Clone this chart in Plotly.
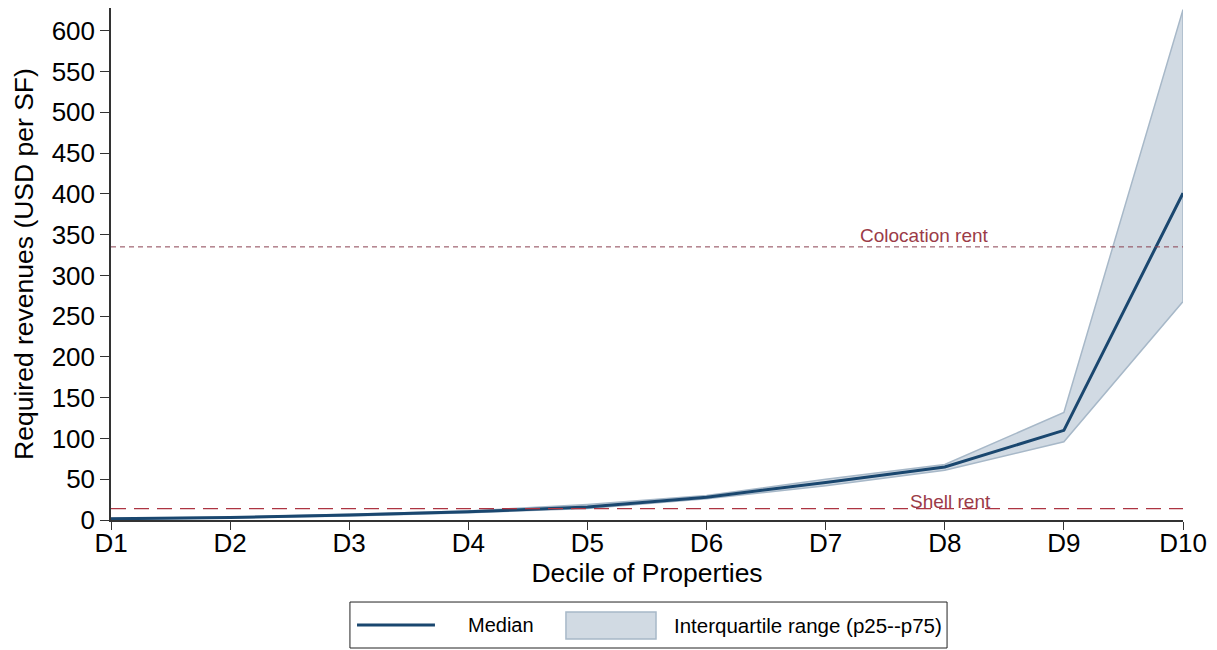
import plotly.graph_objects as go

# Decile categories and required revenue statistics (USD per SF)
deciles = ["D1", "D2", "D3", "D4", "D5", "D6", "D7", "D8", "D9", "D10"]
median = [1.5, 3, 6, 10, 16, 28, 46, 65, 110, 401]
p25 = [1.0, 2.5, 5, 9, 14, 26, 42, 61, 96, 268]
p75 = [2.0, 3.5, 7, 11, 19, 30, 50, 68, 132, 626]

# Reference rent levels
colocation_rent = 335
shell_rent = 14

yticks = list(range(0, 601, 50))

FONT = "Liberation Sans, Arial, sans-serif"
MEDIAN_COLOR = "#1A476F"
BAND_FILL = "#D1DAE3"
BAND_EDGE = "#A7B8C8"
x_idx = list(range(len(deciles)))

fig = go.Figure()

# Interquartile band: upper edge, then lower edge filled to it
fig.add_trace(go.Scatter(
    x=x_idx, y=p75, mode="lines",
    line=dict(color=BAND_EDGE, width=1.5),
    hoverinfo="skip",
))
fig.add_trace(go.Scatter(
    x=x_idx, y=p25, mode="lines", fill="tonexty",
    fillcolor=BAND_FILL,
    line=dict(color=BAND_EDGE, width=1.5),
    name="Interquartile range (p25--p75)",
))
# Right edge of the band at D10
fig.add_trace(go.Scatter(
    x=[x_idx[-1], x_idx[-1]], y=[p25[-1], p75[-1]], mode="lines",
    line=dict(color=BAND_EDGE, width=1.5),
    hoverinfo="skip",
))

fig.add_trace(go.Scatter(
    x=x_idx, y=median, mode="lines",
    line=dict(color=MEDIAN_COLOR, width=3),
    name="Median",
))

# Horizontal rent reference lines
fig.add_shape(type="line", xref="x", yref="y", x0=0, x1=9,
              y0=colocation_rent, y1=colocation_rent,
              line=dict(color="#8A4050", width=1, dash="5px,4px"))
fig.add_shape(type="line", xref="x", yref="y", x0=0, x1=9,
              y0=shell_rent, y1=shell_rent,
              line=dict(color="#AD3442", width=1.2, dash="15px,8px"))

fig.add_annotation(x=6.83, y=colocation_rent, xref="x", yref="y",
                   text="Colocation rent", showarrow=False, yanchor="middle",
                   yshift=11, font=dict(family=FONT, size=19, color="#9B3B48"))
fig.add_annotation(x=7.05, y=shell_rent, xref="x", yref="y",
                   text="Shell rent", showarrow=False, yanchor="middle",
                   yshift=7, font=dict(family=FONT, size=19, color="#9B3B48"))

# Legend box below the plot (paper coordinates)
fig.add_shape(type="rect", xref="paper", yref="paper",
              x0=0.2229, x1=0.7799, y0=-0.25, y1=-0.1602,
              line=dict(color="#222222", width=1), fillcolor="white")
fig.add_shape(type="line", xref="paper", yref="paper",
              x0=0.2295, x1=0.3022, y0=-0.2051, y1=-0.2051,
              line=dict(color=MEDIAN_COLOR, width=3))
fig.add_annotation(x=0.3312, y=-0.2051, xref="paper", yref="paper",
                   text="Median", showarrow=False, xanchor="left", yanchor="middle",
                   font=dict(family=FONT, size=20, color="black"))
fig.add_shape(type="rect", xref="paper", yref="paper",
              x0=0.4244, x1=0.5084, y0=-0.2324, y1=-0.1797,
              line=dict(color=BAND_EDGE, width=1.5), fillcolor=BAND_FILL)
fig.add_annotation(x=0.5233, y=-0.2051, xref="paper", yref="paper",
                   text="Interquartile range (p25--p75)", showarrow=False,
                   xanchor="left", yanchor="middle",
                   font=dict(family=FONT, size=20.5, color="black"))

fig.update_layout(
    width=1217, height=650,
    paper_bgcolor="white", plot_bgcolor="white",
    margin=dict(l=111, r=34, t=8, b=130),
    font=dict(family=FONT, color="black"),
    showlegend=False,
    xaxis=dict(
        range=[0, 9], tickvals=x_idx, ticktext=deciles,
        showgrid=False, zeroline=False,
        showline=True, linecolor="#333333", linewidth=1.5,
        ticks="outside", ticklen=8, tickcolor="#333333",
        ticklabelstandoff=-9,
        tickfont=dict(family=FONT, size=26),
        title=dict(text="Decile of Properties", font=dict(family=FONT, size=26.5),
                   standoff=0),
    ),
    yaxis=dict(
        range=[0, 628], tickvals=yticks,
        showgrid=False, zeroline=False,
        showline=True, linecolor="#333333", linewidth=1.5,
        ticks="outside", ticklen=9, tickcolor="#333333",
        tickfont=dict(family=FONT, size=26),
        title=dict(text="Required revenues (USD per SF)", font=dict(family=FONT, size=26.5),
                   standoff=10),
    ),
)

fig.write_html("out.html")
